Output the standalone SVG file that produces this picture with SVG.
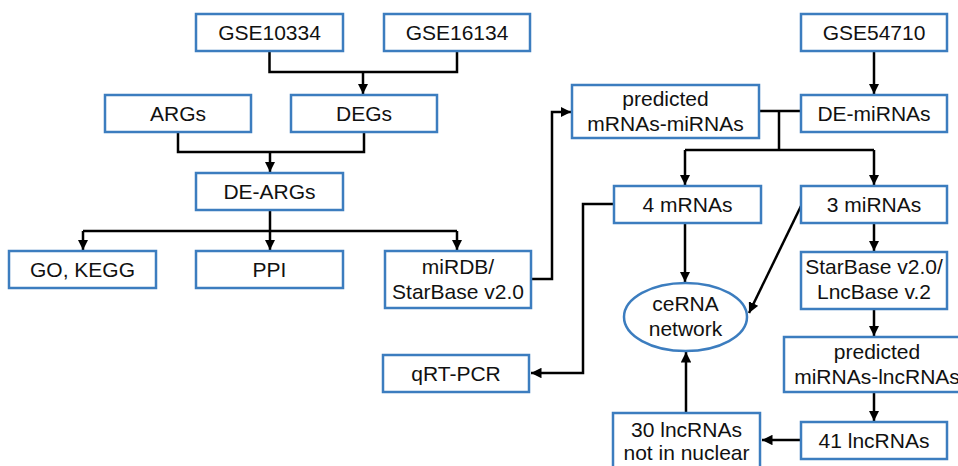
<svg xmlns="http://www.w3.org/2000/svg" width="958" height="466" viewBox="0 0 958 466">
<style>
.box{fill:#fff;stroke:#3c7dbf;stroke-width:2.5}
.t{font-family:"Liberation Sans",Arial,sans-serif;font-size:21px;fill:#111;text-anchor:middle}
.c{fill:none;stroke:#000;stroke-width:2.5}
</style>
<defs>
<marker id="ah" viewBox="0 0 10 10" refX="10" refY="5" markerWidth="4.2" markerHeight="4.2" markerUnits="strokeWidth" orient="auto">
<path d="M0,0 L10,5 L0,10 z" fill="#000"/>
</marker>
</defs>
<rect width="958" height="466" fill="#fff"/>
<g id="connectors">
<path class="c" d="M269.5,51 V72 H457 V51"/>
<path class="c" d="M363,72 V94" marker-end="url(#ah)"/>
<path class="c" d="M178,132 V152 H364 V132"/>
<path class="c" d="M270,152 V172" marker-end="url(#ah)"/>
<path class="c" d="M270,210 V231"/>
<path class="c" d="M83,231 H457"/>
<path class="c" d="M83,231 V250" marker-end="url(#ah)"/>
<path class="c" d="M270,231 V250" marker-end="url(#ah)"/>
<path class="c" d="M457,231 V250" marker-end="url(#ah)"/>
<path class="c" d="M531,279 H552 V112 H571" marker-end="url(#ah)"/>
<path class="c" d="M874,51 V94" marker-end="url(#ah)"/>
<path class="c" d="M759,111 H801"/>
<path class="c" d="M779,111 V150"/>
<path class="c" d="M685,150 H874"/>
<path class="c" d="M685,150 V185" marker-end="url(#ah)"/>
<path class="c" d="M874,150 V185" marker-end="url(#ah)"/>
<path class="c" d="M614,204 H583 V373 H531" marker-end="url(#ah)"/>
<path class="c" d="M685,223 V282" marker-end="url(#ah)"/>
<path class="c" d="M801,206 L749,313" marker-end="url(#ah)"/>
<path class="c" d="M874,223 V251" marker-end="url(#ah)"/>
<path class="c" d="M874,309 V336" marker-end="url(#ah)"/>
<path class="c" d="M874,392 V421" marker-end="url(#ah)"/>
<path class="c" d="M801,440 H762" marker-end="url(#ah)"/>
<path class="c" d="M686,413 V352" marker-end="url(#ah)"/>
</g>
<g id="GSE10334"><rect class="box" x="196" y="14" width="147" height="37"/><text class="t" x="269.5" y="40">GSE10334</text></g>
<g id="GSE16134"><rect class="box" x="384" y="14" width="146" height="37"/><text class="t" x="457" y="40">GSE16134</text></g>
<g id="ARGs"><rect class="box" x="105" y="95" width="146" height="37"/><text class="t" x="178" y="121">ARGs</text></g>
<g id="DEGs"><rect class="box" x="291" y="95" width="146" height="37"/><text class="t" x="364" y="121">DEGs</text></g>
<g id="DE-ARGs"><rect class="box" x="196" y="173" width="147" height="37"/><text class="t" x="269.5" y="199">DE-ARGs</text></g>
<g id="GO-KEGG"><rect class="box" x="9" y="251" width="147" height="37"/><text class="t" x="82.5" y="277">GO, KEGG</text></g>
<g id="PPI"><rect class="box" x="196" y="251" width="147" height="37"/><text class="t" x="269.5" y="277">PPI</text></g>
<g id="miRDB"><rect class="box" x="385" y="251" width="146" height="57"/><text class="t" x="458" y="274">miRDB/</text><text class="t" x="458" y="299">StarBase v2.0</text></g>
<g id="qRT-PCR"><rect class="box" x="383" y="355" width="146" height="37"/><text class="t" x="456" y="381">qRT-PCR</text></g>
<g id="predicted-mRNAs-miRNAs"><rect class="box" x="572" y="85" width="187" height="53"/><text class="t" x="665.5" y="106">predicted</text><text class="t" x="665.5" y="131">mRNAs-miRNAs</text></g>
<g id="GSE54710"><rect class="box" x="801" y="14" width="146" height="37"/><text class="t" x="874" y="40">GSE54710</text></g>
<g id="DE-miRNAs"><rect class="box" x="801" y="95" width="146" height="37"/><text class="t" x="874" y="121">DE-miRNAs</text></g>
<g id="mRNAs4"><rect class="box" x="614" y="186" width="147" height="37"/><text class="t" x="687.5" y="212">4 mRNAs</text></g>
<g id="miRNAs3"><rect class="box" x="801" y="186" width="146" height="37"/><text class="t" x="874" y="212">3 miRNAs</text></g>
<g id="ceRNA"><ellipse class="box" cx="685.5" cy="317" rx="61.5" ry="34"/><text class="t" x="685.5" y="311">ceRNA</text><text class="t" x="685.5" y="336">network</text></g>
<g id="StarBase-LncBase"><rect class="box" x="801" y="252" width="146" height="57"/><text class="t" x="874" y="274">StarBase v2.0/</text><text class="t" x="874" y="299">LncBase v.2</text></g>
<g id="predicted-miRNAs-lncRNAs"><rect class="box" x="784" y="337" width="190" height="55"/><text class="t" x="877" y="359">predicted</text><text class="t" x="877" y="384">miRNAs-lncRNAs</text></g>
<g id="lncRNAs41"><rect class="box" x="801" y="422" width="146" height="37"/><text class="t" x="874" y="448">41 lncRNAs</text></g>
<g id="lncRNAs30"><rect class="box" x="613" y="413" width="147" height="60"/><text class="t" x="686.5" y="437">30 lncRNAs</text><text class="t" x="686.5" y="460">not in nuclear</text></g>
</svg>
